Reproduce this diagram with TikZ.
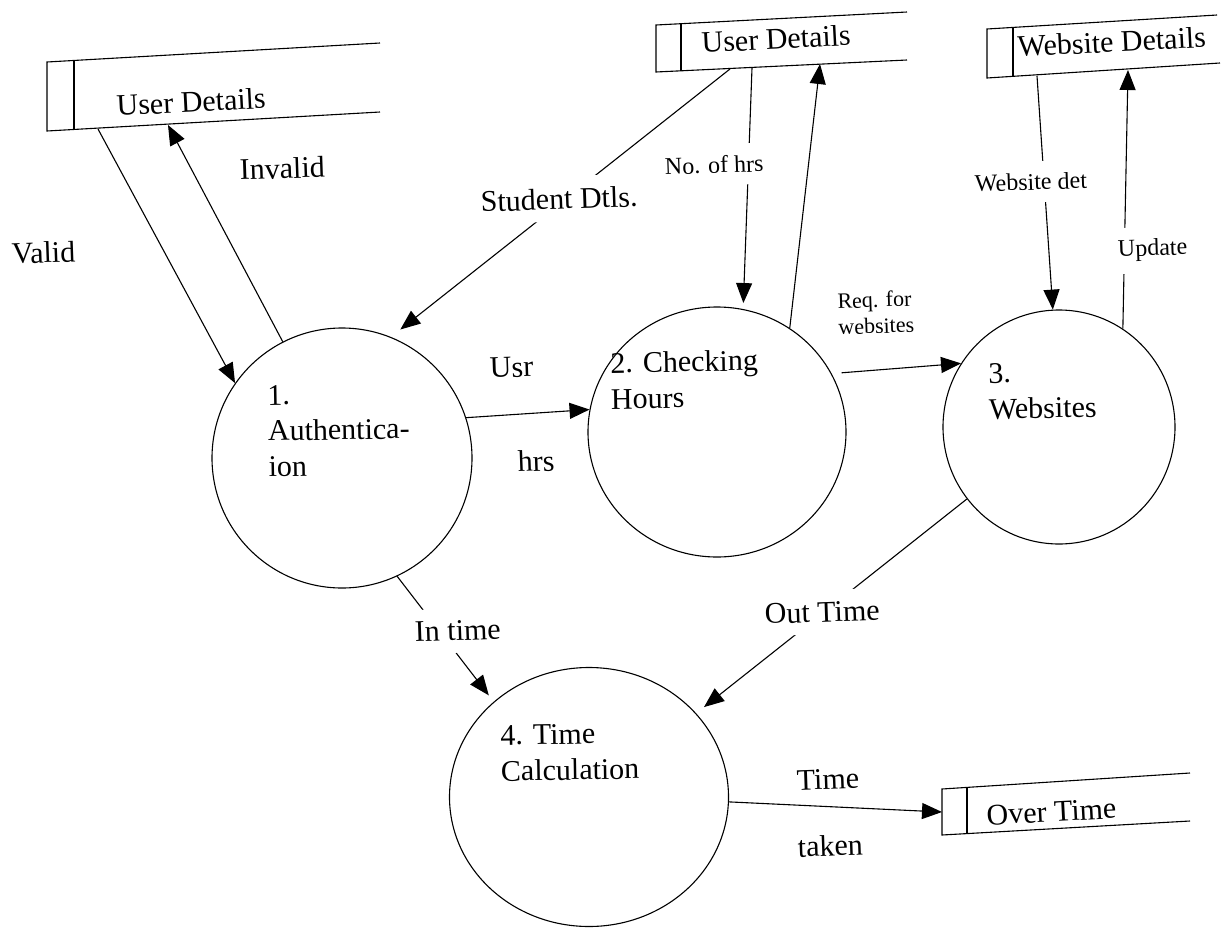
\documentclass[tikz,border=0pt]{standalone}
\usepackage{fontspec}
\setmainfont{Liberation Serif}
\usetikzlibrary{arrows.meta,shapes.geometric}
\begin{document}
\begin{tikzpicture}[x=1pt,y=-1pt,
  proc/.style={draw, ellipse, line width=1.1pt, inner sep=0pt},
  arr/.style={-{Triangle[length=20pt,width=16pt]}, line width=1.1pt},
  store/.style={line width=1.1pt},
  big/.style={font=\fontsize{30}{36}\selectfont},
  small/.style={font=\fontsize{24}{24}\selectfont},
  ptext/.style={big, anchor=north west, align=left, inner sep=0pt, rotate=1},
  lbl/.style={anchor=base west, inner sep=0pt, rotate=2},
  onl/.style={lbl, fill=white, inner xsep=3pt, inner ysep=12pt},
  stxt/.style={big, anchor=base west, inner sep=0pt, rotate=3},
]
\useasboundingbox (0,0) rectangle (1226,929);

% data stores
\draw[store] (380,43) -- (47,62) -- (47,131) -- (380,112);
\draw[store] (74,60) -- (74,130);
\node[stxt] (sAt) at (117,116) {User Details};

\draw[store] (907,12) -- (656,25) -- (656,72) -- (907,60);
\draw[store] (681,24) -- (681,71);
\node[stxt] (sBt) at (702,53) {User Details};

\draw[store] (1217,15) -- (987,29) -- (987,78) -- (1220,63);
\draw[store] (1013,28) -- (1013,77);
\node[stxt] (sCt) at (1018,57) {Website Details};

\draw[store] (1190,773) -- (942,789) -- (942,835) -- (1190,821);
\draw[store] (967,788) -- (967,834);
\node[stxt] (sDt) at (987,825) {Over Time};

% store connection points
\coordinate (sAv) at (98,129);
\coordinate (sAi) at (168,125);
\coordinate (sBs) at (730,69);
\coordinate (sBn) at (752,68);
\coordinate (sBu) at (820,64);
\coordinate (sCw) at (1037,76);
\coordinate (sCu) at (1128,70);
\coordinate (sDin) at (942,812);

% processes
\node[proc, minimum width=260pt, minimum height=260pt] (c1) at (342,458) {};
\node[proc, minimum width=258pt, minimum height=250pt] (c2) at (717,432) {};
\node[proc, minimum width=232pt, minimum height=234pt] (c3) at (1059,427) {};
\node[proc, minimum width=279pt, minimum height=259pt] (c4) at (589,797) {};

\node[ptext] (t1) at (267,385) {1.\\Authentica-\\ion};
\node[ptext] (t2) at (610,352) {2. Checking\\Hours};
\node[ptext] (t3) at (988,363) {3.\\Websites};
\node[ptext] (t4) at (500,725) {4. Time\\Calculation};

% flows
\draw[arr] (sAv) -- (c1.145);
\draw[arr] (c1.117) -- (sAi);
\draw[arr, shorten >=12pt] (sBs) -- (c1.68);
\draw[arr, shorten >=6pt] (sBn) -- (c2.78);
\draw[arr] (c2.55) -- (sBu);
\draw[arr] (c1.18) -- (c2.170);
\draw[arr, shorten <=10pt] (c2.27) -- (c3.147);
\draw[arr] (sCw) -- (c3.93);
\draw[arr] (c3.57) -- (sCu);
\draw[arr, shorten >=10pt] (c3.-142) -- (c4.38);
\draw[arr, shorten >=8pt] (c1.-65) -- (c4.135);
\draw[arr] (c4.-2) -- (sDin);

% labels
\node[lbl,big] (lValid) at (12,264) {Valid};
\node[lbl,big] (lInvalid) at (240,180) {Invalid};
\node[onl,big] (lStud) at (478,212) {Student Dtls.};
\node[onl,small] (lNo) at (662,175) {No. of hrs};
\node[lbl,big] (lUsr) at (490,378) {Usr};
\node[lbl,big] (lHrs) at (518,472) {hrs};
\node[lbl,font=\fontsize{22}{26}\selectfont,align=left,anchor=north west] (lReq) at (837,293) {Req. for\\websites};
\node[onl,small] (lWeb) at (972,192) {Website det};
\node[onl,small] (lUpd) at (1115,257) {Update};
\node[onl,big] (lOut) at (762,624) {Out Time};
\node[onl,big] (lIn) at (412,642) {In time};
\node[lbl,big] (lTime) at (797,790) {Time};
\node[lbl,big] (lTaken) at (798,857) {taken};
\end{tikzpicture}
\end{document}
